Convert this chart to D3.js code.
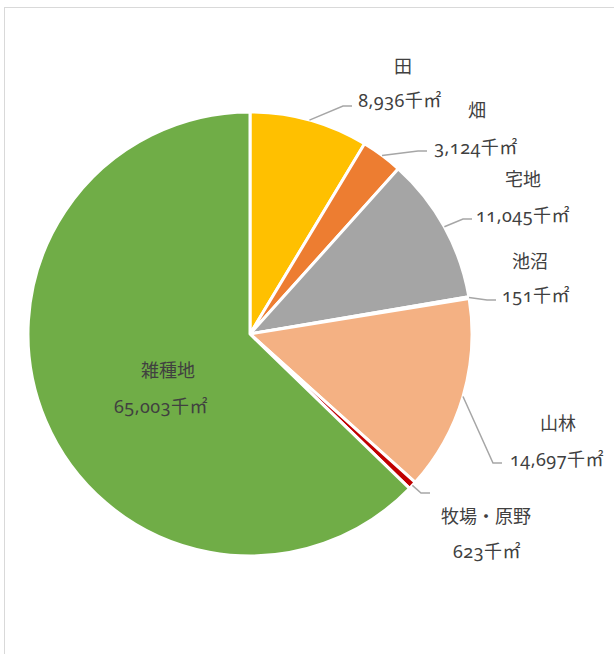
<!DOCTYPE html>
<html>
<head>
<meta charset="utf-8">
<script src="https://cdn.jsdelivr.net/npm/d3@7"></script>
<style>
  body { margin: 0; background: #fff; }
  svg text {
    font-family: "Noto Sans", "Noto Sans CJK JP", sans-serif;
    font-variant-numeric: oldstyle-nums;
    font-size: 18px;
    fill: #404040;
  }
</style>
</head>
<body>
<svg id="chart"></svg>
<script>
// land use areas (千㎡)
const categories = ["田", "畑", "宅地", "池沼", "山林", "牧場・原野", "雑種地"];
const values = [8936, 3124, 11045, 151, 14697, 623, 65003];
const colors = ["#FFC000", "#ED7D31", "#A5A5A5", "#4472C4", "#F4B183", "#C00000", "#70AD47"];
const unit = "千㎡";

// label placement: name centre, value centre, leader end (null = no leader)
const labelLayout = [
    { name: [403, 66], value: [400, 100], end: [352, 106] },
    { name: [477, 110], value: [476, 147], end: [427, 151] },
    { name: [523, 179], value: [523, 215], end: [472, 219] },
    { name: [530, 261], value: [536, 295], end: [496, 300] },
    { name: [558, 423], value: [557, 459], end: [502, 463] },
    { name: [486, 516], value: [487, 551], end: [430, 493] },
    { name: [168, 370], value: [161, 406], end: null }
];

const width = 614, height = 654;
const cx = 250, cy = 334, radius = 222;

const svg = d3.select("#chart")
    .attr("width", width)
    .attr("height", height);

// chart frame (cut off at the right and bottom)
svg.append("rect")
    .attr("x", 4.5).attr("y", 7.5)
    .attr("width", 700).attr("height", 700)
    .attr("fill", "none")
    .attr("stroke", "#D9D9D9");

const data = categories.map((c, i) => ({ name: c, value: values[i], color: colors[i], layout: labelLayout[i] }));

const pie = d3.pie().sort(null).value(d => d.value);
const arc = d3.arc().innerRadius(0).outerRadius(radius);
const arcs = pie(data);

const g = svg.append("g").attr("transform", `translate(${cx},${cy})`);

g.selectAll("path")
    .data(arcs)
    .enter().append("path")
    .attr("d", arc)
    .attr("fill", d => d.data.color)
    .attr("stroke", "#fff")
    .attr("stroke-width", 3)
    .attr("stroke-linejoin", "round");

// leader lines
const fmt = d3.format(",");
arcs.forEach(a => {
    const end = a.data.layout.end;
    if (!end) return;
    const mid = (a.startAngle + a.endAngle) / 2;
    const sx = cx + radius * Math.sin(mid);
    const sy = cy - radius * Math.cos(mid);
    const elbow = [end[0] - 9, end[1]];
    svg.append("polyline")
        .attr("points", [[sx, sy], elbow, end].map(p => p.join(",")).join(" "))
        .attr("fill", "none")
        .attr("stroke", "#A6A6A6")
        .attr("stroke-width", 1.5);
});

// labels
const labels = svg.append("g");
arcs.forEach(a => {
    const L = a.data.layout;
    labels.append("text")
        .attr("x", L.name[0]).attr("y", L.name[1])
        .attr("text-anchor", "middle")
        .attr("dominant-baseline", "central")
        .text(a.data.name);
    labels.append("text")
        .attr("x", L.value[0]).attr("y", L.value[1])
        .attr("text-anchor", "middle")
        .attr("dominant-baseline", "central")
        .attr("letter-spacing", "0.5px")
        .text(fmt(a.data.value) + unit);
});
</script>
</body>
</html>
